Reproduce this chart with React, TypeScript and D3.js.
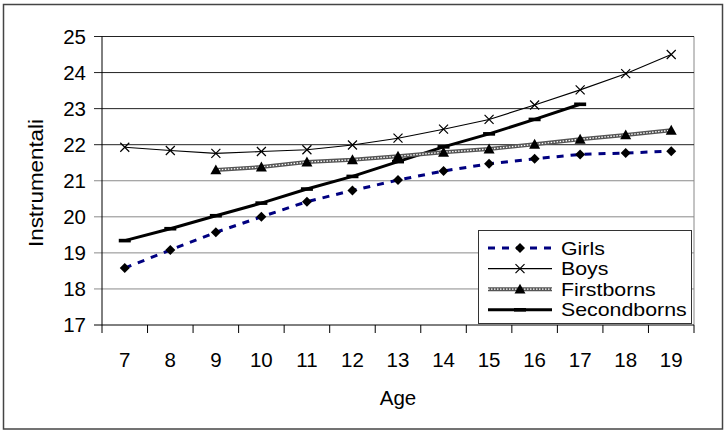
import React from "react";
import * as d3 from "d3";

const ages = [7, 8, 9, 10, 11, 12, 13, 14, 15, 16, 17, 18, 19];
const girls: (number | null)[] = [18.58, 19.08, 19.57, 20.0, 20.42, 20.73, 21.02, 21.27, 21.47, 21.61, 21.73, 21.77, 21.82];
const boys: (number | null)[] = [21.93, 21.84, 21.76, 21.81, 21.86, 21.99, 22.18, 22.43, 22.7, 23.1, 23.52, 23.97, 24.5];
const firstborns: (number | null)[] = [null, null, 21.3, 21.38, 21.52, 21.58, 21.68, 21.79, 21.88, 22.01, 22.15, 22.27, 22.4];
const secondborns: (number | null)[] = [19.34, 19.67, 20.03, 20.38, 20.77, 21.12, 21.53, 21.94, 22.3, 22.7, 23.12, null, null];
const yTicks = [17, 18, 19, 20, 21, 22, 23, 24, 25];
const seriesNames = ["Girls", "Boys", "Firstborns", "Secondborns"];

const W = 728;
const H = 433;
const left = 102;
const right = 694;
const top = 36.5;
const bottom = 325;
const FONT = "'Liberation Sans', Arial, sans-serif";

const x = d3.scaleBand<number>().domain(ages).range([left, right]);
const y = d3.scaleLinear().domain([17, 25]).range([bottom, top]);
const cx = (a: number) => (x(a) as number) + x.bandwidth() / 2;

function linePath(vals: (number | null)[]) {
  const pts = ages.map((a, i) => ({ a, v: vals[i] }));
  return (
    d3
      .line<{ a: number; v: number | null }>()
      .defined((d) => d.v !== null)
      .x((d) => cx(d.a))
      .y((d) => y(d.v as number))(pts) || ""
  );
}

function Diamond({ px, py }: { px: number; py: number }) {
  const r = 5;
  return <path d={`M${px},${py - r}L${px + r},${py}L${px},${py + r}L${px - r},${py}Z`} fill="#000" />;
}
function Cross({ px, py }: { px: number; py: number }) {
  const r = 4.5;
  return (
    <path d={`M${px - r},${py - r}L${px + r},${py + r}M${px - r},${py + r}L${px + r},${py - r}`} stroke="#000" strokeWidth={1.2} />
  );
}
function Tri({ px, py }: { px: number; py: number }) {
  const r = 5.5;
  return <path d={`M${px},${py - r}L${px + r},${py + r * 0.8}L${px - r},${py + r * 0.8}Z`} fill="#000" />;
}
function Dash({ px, py }: { px: number; py: number }) {
  return <rect x={px - 6} y={py - 1.8} width={12} height={3.6} fill="#000" />;
}

function Girl({ d }: { d: string }) {
  return <path d={d} fill="none" stroke="#000080" strokeWidth={3} strokeDasharray="7,7" />;
}
function Boy({ d }: { d: string }) {
  return <path d={d} fill="none" stroke="#000" strokeWidth={1.1} />;
}
function First({ d }: { d: string }) {
  return (
    <g>
      <path d={d} fill="none" stroke="#555" strokeWidth={4} />
      <path d={d} fill="none" stroke="#fff" strokeWidth={1.3} strokeDasharray="1.5,1.5" />
    </g>
  );
}
function Second({ d }: { d: string }) {
  return <path d={d} fill="none" stroke="#000" strokeWidth={3} />;
}

export default function App() {
  const dataSets = [girls, boys, firstborns, secondborns];
  const Lines = [Girl, Boy, First, Second];
  const Markers = [Diamond, Cross, Tri, Dash];
  const order = [3, 2, 1, 0];

  return (
    <svg width={W} height={H} style={{ position: "absolute", left: 0, top: 0, background: "#fff" }} fontFamily={FONT}>
      <rect x={0} y={0} width={W} height={H} fill="#fff" />
      <rect x={3.5} y={4.5} width={719} height={424.5} fill="none" stroke="#444" strokeWidth={1.5} />

      {/* plot border right */}
      <line x1={right} x2={right} y1={top} y2={bottom} stroke="#888" strokeWidth={1} />

      {/* gridlines */}
      {yTicks.map((t) => (
        <line
          key={t}
          x1={left - 8}
          x2={right}
          y1={y(t)}
          y2={y(t)}
          stroke={t === 17 ? "#000" : t >= 22 ? "#222" : "#8a8a8a"}
          strokeWidth={1}
        />
      ))}
      {/* y axis */}
      <line x1={left} x2={left} y1={top} y2={bottom} stroke="#000" strokeWidth={1} />
      {yTicks.map((t) => (
        <text key={t} x={86} y={y(t)} dy="0.36em" textAnchor="end" fontSize={20.5}>
          {t}
        </text>
      ))}
      {/* x ticks */}
      {ages.concat([20]).map((a, i) => {
        const xx = left + i * x.bandwidth();
        return <line key={a} x1={xx} x2={xx} y1={bottom} y2={bottom + 8} stroke="#000" strokeWidth={1} />;
      })}
      {ages.map((a) => (
        <text key={a} x={cx(a)} y={367} textAnchor="middle" fontSize={20.5}>
          {a}
        </text>
      ))}
      <text x={(left + right) / 2} y={405} textAnchor="middle" fontSize={20.5}>
        Age
      </text>
      <text
        transform="translate(43,183) rotate(-90)"
        textAnchor="middle"
        fontSize={20}
        textLength={128}
        lengthAdjust="spacingAndGlyphs"
      >
        Instrumentali
      </text>

      {/* series */}
      {order.map((si) => {
        const L = Lines[si];
        return <L key={"l" + si} d={linePath(dataSets[si])} />;
      })}
      {order.map((si) => {
        const M = Markers[si];
        return (
          <g key={"m" + si}>
            {ages.map((a, i) => {
              const v = dataSets[si][i];
              if (v === null) return null;
              return <M key={a} px={cx(a)} py={y(v)} />;
            })}
          </g>
        );
      })}

      {/* legend */}
      <rect x={478.5} y={230.5} width={213} height={93} fill="#fff" stroke="#333" strokeWidth={1} />
      {seriesNames.map((n, i) => {
        const ly = 248 + i * 20.6;
        const L = Lines[i];
        const M = Markers[i];
        return (
          <g key={n}>
            <L d={`M488,${ly}L552,${ly}`} />
            <M px={520} py={ly} />
            <text transform={`translate(561,${ly}) scale(1.16,1)`} dy="0.36em" fontSize={18.4}>
              {n}
            </text>
          </g>
        );
      })}
    </svg>
  );
}
